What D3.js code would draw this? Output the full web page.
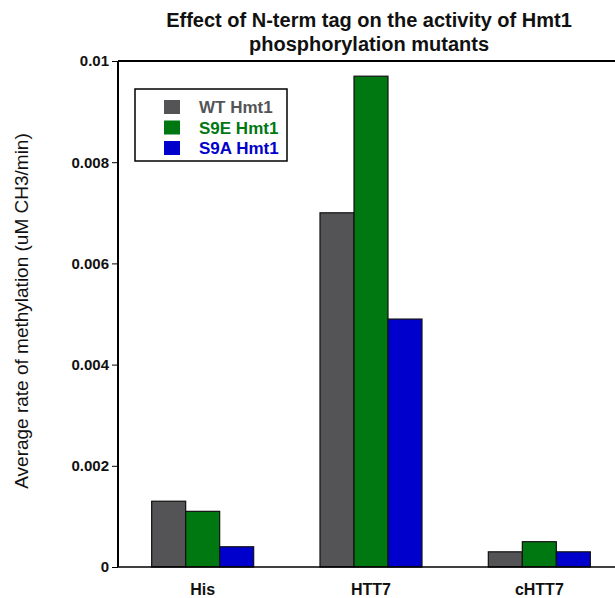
<!DOCTYPE html>
<html>
<head>
<meta charset="utf-8">
<script src="https://cdn.jsdelivr.net/npm/d3@7"></script>
<style>
  html, body { margin: 0; padding: 0; background: #fff; }
  svg { display: block; font-family: Arial, "Liberation Sans", sans-serif; }
</style>
</head>
<body>
<svg id="chart" width="615" height="598"></svg>
<script>
// Tag constructs on the x axis
const categories = ["His", "HTT7", "cHTT7"];
// Hmt1 variants (legend order)
const seriesNames = ["WT Hmt1", "S9E Hmt1", "S9A Hmt1"];
const seriesColors = ["#545457", "#007812", "#0000cc"];
// Average rate of methylation (uM CH3/min), one array per variant
const wtValues  = [0.0013, 0.0070, 0.0003];
const s9eValues = [0.0011, 0.0097, 0.0005];
const s9aValues = [0.0004, 0.0049, 0.0003];
const yTicks = [0, 0.002, 0.004, 0.006, 0.008, 0.01];
const yTickLabels = ["0", "0.002", "0.004", "0.006", "0.008", "0.01"];

const seriesValues = [wtValues, s9eValues, s9aValues];

const svg = d3.select("#chart");
const plot = { left: 118, right: 624, top: 61, bottom: 567 };

const x = d3.scaleBand()
  .domain(categories)
  .range([plot.left, plot.right])
  .paddingInner(0.394)
  .paddingOuter(0.2);

const xInner = d3.scaleBand()
  .domain(seriesNames)
  .range([0, x.bandwidth()]);

const y = d3.scaleLinear()
  .domain([0, 0.01])
  .range([plot.bottom, plot.top]);

// Bars
const groups = svg.append("g").selectAll("g")
  .data(categories)
  .join("g")
  .attr("transform", d => `translate(${x(d)},0)`);

groups.selectAll("rect")
  .data((c, i) => seriesNames.map((s, j) => ({ s, j, v: seriesValues[j][i] })))
  .join("rect")
  .attr("x", d => xInner(d.s))
  .attr("y", d => y(d.v))
  .attr("width", xInner.bandwidth())
  .attr("height", d => y(0) - y(d.v))
  .attr("fill", d => seriesColors[d.j])
  .attr("stroke", "#111")
  .attr("stroke-width", 1.2);

// Frame: top line and x baseline
svg.append("line")
  .attr("x1", plot.left).attr("x2", 615)
  .attr("y1", plot.top).attr("y2", plot.top)
  .attr("stroke", "#000").attr("stroke-width", 2);

svg.append("line")
  .attr("x1", plot.left).attr("x2", 615)
  .attr("y1", plot.bottom).attr("y2", plot.bottom)
  .attr("stroke", "#000").attr("stroke-width", 1.5);

// Y axis
const yAxis = d3.axisLeft(y)
  .tickValues(yTicks)
  .tickFormat((d, i) => yTickLabels[i])
  .tickSize(6)
  .tickPadding(3);

const yg = svg.append("g")
  .attr("transform", `translate(${plot.left},0)`)
  .call(yAxis);
yg.select(".domain").attr("stroke-width", 2).attr("d", `M0,${plot.top}V${plot.bottom}`);
yg.selectAll(".tick line").attr("stroke-width", 1);
yg.selectAll(".tick text")
  .attr("font-family", "Arial, 'Liberation Sans', sans-serif")
  .attr("font-size", 15).attr("font-weight", "bold").attr("fill", "#111");

// X axis labels
const xAxis = d3.axisBottom(x).tickSize(0).tickPadding(0);
const xg = svg.append("g")
  .attr("transform", `translate(0,${plot.bottom})`)
  .call(xAxis);
xg.select(".domain").remove();
xg.selectAll(".tick text")
  .attr("dy", null)
  .attr("y", 28)
  .attr("font-family", "Arial, 'Liberation Sans', sans-serif")
  .attr("font-size", 16).attr("font-weight", "bold").attr("fill", "#111");

// Y axis title
svg.append("text")
  .attr("transform", `translate(28,311) rotate(-90)`)
  .attr("text-anchor", "middle")
  .attr("font-size", 19)
  .attr("fill", "#111")
  .text("Average rate of methylation (uM CH3/min)");

// Chart title
const title = svg.append("text")
  .attr("text-anchor", "middle")
  .attr("font-size", 20)
  .attr("font-weight", "bold")
  .attr("fill", "#111");
title.append("tspan").attr("x", 369).attr("y", 27).text("Effect of N-term tag on the activity of Hmt1");
title.append("tspan").attr("x", 369).attr("y", 51).text("phosphorylation mutants");

// Legend
const legend = svg.append("g");
legend.append("rect")
  .attr("x", 135).attr("y", 89)
  .attr("width", 152).attr("height", 72)
  .attr("fill", "#fff")
  .attr("stroke", "#000").attr("stroke-width", 1.5);

const rows = legend.selectAll("g.row")
  .data(seriesNames)
  .join("g")
  .attr("class", "row")
  .attr("transform", (d, i) => `translate(0,${107 + i * 20.5})`);

rows.append("rect")
  .attr("x", 164).attr("y", -7)
  .attr("width", 16).attr("height", 14)
  .attr("fill", (d, i) => seriesColors[i]);

rows.append("text")
  .attr("x", 199).attr("y", 6)
  .attr("font-size", 17).attr("font-weight", "bold")
  .attr("fill", (d, i) => seriesColors[i])
  .text(d => d);
</script>
</body>
</html>
